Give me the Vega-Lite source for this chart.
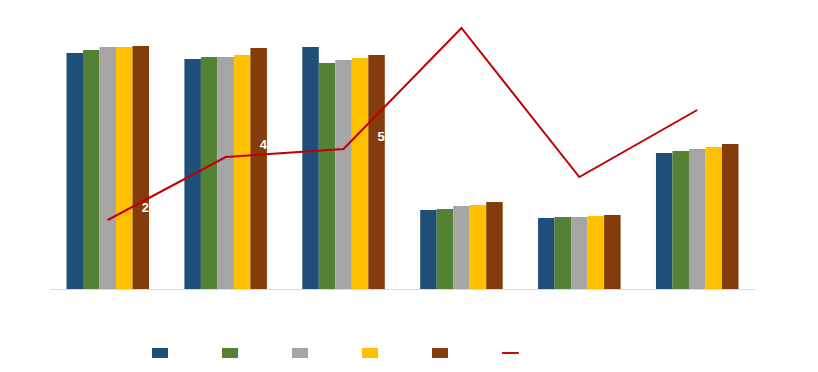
{
  "$schema": "https://vega.github.io/schema/vega-lite/v6.json",
  "width": 705,
  "height": 270,
  "autosize": "none",
  "padding": {"left": 50, "top": 19, "right": 63, "bottom": 83},
  "background": "white",
  "config": {"view": {"stroke": null}, "font": "Liberation Sans"},
  "datasets": {
    "bars": [
      {"category": "Category 1", "series": "Series 1", "value": 236},
      {"category": "Category 1", "series": "Series 2", "value": 239},
      {"category": "Category 1", "series": "Series 3", "value": 242},
      {"category": "Category 1", "series": "Series 4", "value": 242},
      {"category": "Category 1", "series": "Series 5", "value": 243},
      {"category": "Category 2", "series": "Series 1", "value": 230},
      {"category": "Category 2", "series": "Series 2", "value": 232},
      {"category": "Category 2", "series": "Series 3", "value": 232},
      {"category": "Category 2", "series": "Series 4", "value": 234},
      {"category": "Category 2", "series": "Series 5", "value": 241},
      {"category": "Category 3", "series": "Series 1", "value": 242},
      {"category": "Category 3", "series": "Series 2", "value": 226},
      {"category": "Category 3", "series": "Series 3", "value": 229},
      {"category": "Category 3", "series": "Series 4", "value": 231},
      {"category": "Category 3", "series": "Series 5", "value": 234},
      {"category": "Category 4", "series": "Series 1", "value": 79},
      {"category": "Category 4", "series": "Series 2", "value": 80},
      {"category": "Category 4", "series": "Series 3", "value": 83},
      {"category": "Category 4", "series": "Series 4", "value": 84},
      {"category": "Category 4", "series": "Series 5", "value": 87},
      {"category": "Category 5", "series": "Series 1", "value": 71},
      {"category": "Category 5", "series": "Series 2", "value": 72},
      {"category": "Category 5", "series": "Series 3", "value": 72},
      {"category": "Category 5", "series": "Series 4", "value": 73},
      {"category": "Category 5", "series": "Series 5", "value": 74},
      {"category": "Category 6", "series": "Series 1", "value": 136},
      {"category": "Category 6", "series": "Series 2", "value": 138},
      {"category": "Category 6", "series": "Series 3", "value": 140},
      {"category": "Category 6", "series": "Series 4", "value": 142},
      {"category": "Category 6", "series": "Series 5", "value": 145}
    ],
    "line": [
      {"category": "Category 1", "series": "Rate", "rate": 69, "label": "2.3%"},
      {"category": "Category 2", "series": "Rate", "rate": 132, "label": "4.4%"},
      {"category": "Category 3", "series": "Rate", "rate": 140, "label": "5.0%"},
      {"category": "Category 4", "series": "Rate", "rate": 261, "label": "9.5%"},
      {"category": "Category 5", "series": "Rate", "rate": 112, "label": "3.9%"},
      {"category": "Category 6", "series": "Rate", "rate": 179, "label": "6.4%"}
    ]
  },
  "layer": [
    {
      "data": {"name": "bars"},
      "mark": {"type": "bar"},
      "encoding": {
        "x": {
          "field": "category", "type": "nominal", "sort": null,
          "scale": {"paddingInner": 0.3, "paddingOuter": 0.14},
          "axis": {"title": null, "domainColor": "#D9D9D9", "domainWidth": 1, "ticks": false, "labelColor": "white", "labelAngle": 0, "labelPadding": 10, "grid": false}
        },
        "xOffset": {"field": "series", "type": "nominal", "sort": null, "scale": {"paddingInner": 0}},
        "y": {"field": "value", "type": "quantitative", "scale": {"domain": [0, 270]}, "axis": null},
        "color": {
          "field": "series", "type": "nominal", "sort": null,
          "scale": {
            "domain": ["Series 1", "Series 2", "Series 3", "Series 4", "Series 5", "Rate"],
            "range": ["#1F4E79", "#548235", "#A5A5A5", "#FFC000", "#843C0C", "#C00000"]
          },
          "legend": {
            "title": null,
            "orient": "none",
            "legendX": 102,
            "legendY": 326,
            "direction": "horizontal",
            "columns": 6,
            "gridAlign": "all",
            "padding": 0,
            "columnPadding": 9,
            "symbolSize": 256,
            "symbolStrokeWidth": 0,
            "labelColor": "white",
            "labelFontSize": 11,
            "labelOffset": 4,
            "encode": {
              "symbols": {
                "update": {
                  "shape": {"signal": "datum.value === 'Rate' ? 'M-1,-0.12h2.1v0.24h-2.1Z' : 'M-1,-0.625h2v1.25h-2Z'"},
                  "fill": {"signal": "scale('color', datum.value)"},
                  "strokeWidth": {"value": 0}
                }
              }
            }
          }
        }
      }
    },
    {
      "data": {"name": "line"},
      "mark": {"type": "line", "strokeWidth": 2},
      "encoding": {
        "x": {"field": "category", "type": "nominal", "sort": null},
        "y": {"field": "rate", "type": "quantitative", "scale": {"domain": [0, 270]}, "axis": null},
        "color": {"field": "series", "type": "nominal", "sort": null}
      }
    },
    {
      "data": {"name": "line"},
      "mark": {"type": "text", "color": "white", "fontWeight": "bold", "fontSize": 13, "align": "left", "baseline": "middle", "dx": 34, "dy": -12},
      "encoding": {
        "x": {"field": "category", "type": "nominal", "sort": null},
        "y": {"field": "rate", "type": "quantitative", "scale": {"domain": [0, 270]}, "axis": null},
        "text": {"field": "label"}
      }
    }
  ],
  "resolve": {"scale": {"y": "independent"}}
}
